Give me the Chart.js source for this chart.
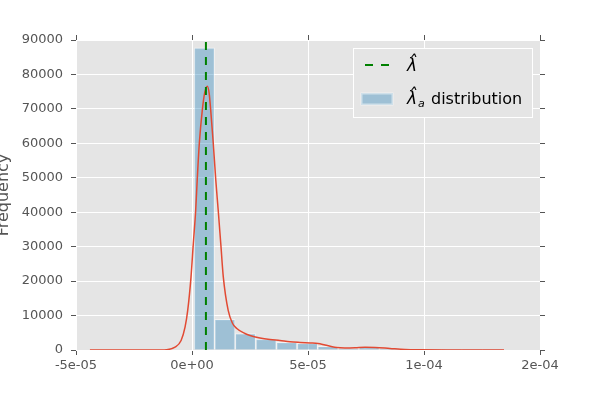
<!DOCTYPE html>
<html>
<head>
<meta charset="utf-8">
<script src="https://cdn.jsdelivr.net/npm/chart.js@4.4.1/dist/chart.umd.min.js"></script>
<style>
  html, body { margin: 0; padding: 0; background: #fff; }
</style>
</head>
<body>
<canvas id="myChart" width="600" height="400"></canvas>
<script>
// histogram of lambda_a estimates
const binEdges = [0.086e-5, 0.975e-5, 1.86e-5, 2.75e-5, 3.64e-5, 4.53e-5, 5.42e-5, 6.30e-5,
  7.19e-5, 8.08e-5, 8.97e-5, 9.86e-5, 10.74e-5, 11.63e-5, 12.52e-5, 13.41e-5];
const binCounts = [87700, 8900, 4800, 3150, 2200, 1950, 1100, 450, 750, 400, 150, 60, 30, 15, 10];

// kernel density curve (scaled to counts)
const kdeX = [-4.40e-5, -1.60e-5, -1.10e-5, -0.73e-5, -0.47e-5, -0.30e-5, -0.185e-5, -0.043e-5,
  0.056e-5, 0.159e-5, 0.228e-5, 0.315e-5, 0.444e-5, 0.55e-5, 0.66e-5, 0.74e-5, 0.806e-5,
  0.918e-5, 1.02e-5, 1.13e-5, 1.24e-5, 1.35e-5, 1.56e-5, 1.75e-5, 1.93e-5, 2.28e-5, 2.50e-5,
  2.93e-5, 3.36e-5, 3.79e-5, 4.22e-5, 4.66e-5, 5.09e-5, 5.43e-5, 5.73e-5, 6.16e-5, 6.59e-5,
  7.03e-5, 7.46e-5, 7.89e-5, 8.53e-5, 9.18e-5, 9.83e-5, 11.0e-5, 13.45e-5];
const kdeY = [0, 0, 100, 810, 2760, 6630, 11490, 21170,
  30880, 40560, 49780, 59960, 69640, 74800, 76600, 74500, 69640,
  59960, 49780, 40560, 30880, 21170, 11490, 7700, 6250, 4800, 4200,
  3500, 3050, 2750, 2400, 2200, 2050, 1900, 1450, 800, 580,
  640, 800, 730, 440, 150, 50, 0, 0];

// point estimate
const lambdaHat = 6.0e-6;

const xTicks = [-5e-5, 0, 5e-5, 1e-4, 1.5e-4];
const xTickLabels = ["-5e-05", "0e+00", "5e-05", "1e-04", "2e-04"];
const yTicks = [0, 10000, 20000, 30000, 40000, 50000, 60000, 70000, 80000, 90000];

const binCenters = binCounts.map((c, i) => (binEdges[i] + binEdges[i + 1]) / 2);

Chart.defaults.font.family = "'DejaVu Sans', sans-serif";

const plotBg = {
  id: "plotBg",
  beforeDraw(chart) {
    const a = chart.chartArea;
    chart.ctx.save();
    chart.ctx.fillStyle = "#e5e5e5";
    chart.ctx.fillRect(a.left, a.top, a.right - a.left, a.bottom - a.top);
    chart.ctx.restore();
  },
};

const insideLegend = {
  id: "insideLegend",
  afterDraw(chart) {
    const ctx = chart.ctx;
    const a = chart.chartArea;
    const x0 = a.right - 187;
    const y0 = a.top + 8;
    ctx.save();
    ctx.fillStyle = "#e5e5e5";
    ctx.fillRect(x0, y0, 180, 69);
    ctx.strokeStyle = "#ffffff";
    ctx.lineWidth = 1;
    ctx.strokeRect(x0 + 0.5, y0 + 0.5, 179, 69);

    // entry 1: dashed line
    ctx.strokeStyle = "green";
    ctx.lineWidth = 2;
    ctx.setLineDash([8, 8]);
    ctx.beginPath();
    ctx.moveTo(x0 + 12, y0 + 17);
    ctx.lineTo(x0 + 37, y0 + 17);
    ctx.stroke();
    ctx.setLineDash([]);

    ctx.fillStyle = "#000";
    ctx.textBaseline = "alphabetic";
    ctx.font = "italic 17px 'DejaVu Sans'";
    ctx.fillText("\u03bb\u0302", x0 + 54, y0 + 23);

    // entry 2: patch
    ctx.fillStyle = "rgba(52,138,189,0.4)";
    ctx.fillRect(x0 + 8, y0 + 45, 32, 12);
    ctx.strokeStyle = "rgba(255,255,255,0.5)";
    ctx.strokeRect(x0 + 8.5, y0 + 45.5, 31, 11);

    ctx.fillStyle = "#000";
    ctx.font = "italic 17px 'DejaVu Sans'";
    ctx.fillText("\u03bb\u0302", x0 + 54, y0 + 56);
    ctx.font = "italic 11px 'DejaVu Sans'";
    ctx.fillText("a", x0 + 65, y0 + 59);
    ctx.font = "16px 'DejaVu Sans'";
    ctx.fillText("distribution", x0 + 78, y0 + 56);
    ctx.restore();
  },
};

const setTicks = (vals) => (scale) => {
  scale.ticks = vals.map((v) => ({ value: v }));
};

new Chart("myChart", {
  type: "line",
  data: {
    datasets: [
      {
        type: "line",
        data: [{ x: lambdaHat, y: 0 }, { x: lambdaHat, y: 90000 }],
        borderColor: "green",
        borderWidth: 2,
        borderDash: [8, 7],
        pointRadius: 0,
        order: 0,
      },
      {
        type: "line",
        data: kdeX.map((x, i) => ({ x: x, y: kdeY[i] })),
        borderColor: "#e24a33",
        borderWidth: 1.5,
        pointRadius: 0,
        fill: false,
        cubicInterpolationMode: "monotone",
        order: 1,
      },
      {
        type: "bar",
        data: binCenters.map((x, i) => ({ x: x, y: binCounts[i] })),
        backgroundColor: "rgba(52,138,189,0.4)",
        borderColor: "rgba(255,255,255,0.5)",
        borderWidth: 1,
        barPercentage: 1,
        categoryPercentage: 1,
        grouped: false,
        order: 2,
      },
    ],
  },
  options: {
    responsive: false,
    animation: false,
    events: [],
    layout: { padding: { top: 35, right: 55, bottom: 20, left: 0 } },
    plugins: {
      legend: { display: false },
      tooltip: { enabled: false },
    },
    scales: {
      x: {
        type: "linear",
        position: "bottom",
        min: -5e-5,
        max: 1.5e-4,
        offset: false,
        afterBuildTicks: setTicks(xTicks),
        afterFit: (s) => { s.height = 30; },
        ticks: {
          callback: (v, i) => xTickLabels[i],
          color: "#555",
          font: { size: 13 },
          padding: 3,
          maxRotation: 0,
          autoSkip: false,
        },
        grid: { color: "#ffffff", lineWidth: 1, offset: false, tickColor: "#555", tickLength: 5 },
        border: { display: false },
      },
      x2: {
        type: "linear",
        position: "top",
        min: -5e-5,
        max: 1.5e-4,
        afterBuildTicks: setTicks(xTicks),
        afterFit: (s) => { s.height = 5; },
        ticks: { display: false },
        grid: { drawOnChartArea: false, tickColor: "#555", tickLength: 5 },
        border: { display: false },
      },
      y: {
        type: "linear",
        position: "left",
        min: 0,
        max: 90000,
        afterBuildTicks: setTicks(yTicks),
        afterFit: (s) => { s.width = 76; },
        ticks: { color: "#555", font: { size: 13 }, padding: 8, callback: (v) => String(v) },
        grid: { color: "#ffffff", lineWidth: 1, tickColor: "#555", tickLength: 5 },
        border: { display: false },
        title: {
          display: true,
          text: "Frequency",
          color: "#555",
          font: { size: 16 },
          padding: { top: -6, bottom: 0 },
        },
      },
      y2: {
        type: "linear",
        position: "right",
        min: 0,
        max: 90000,
        afterBuildTicks: setTicks(yTicks),
        afterFit: (s) => { s.width = 5; },
        ticks: { display: false },
        grid: { drawOnChartArea: false, tickColor: "#555", tickLength: 5 },
        border: { display: false },
      },
    },
  },
  plugins: [plotBg, insideLegend],
});
</script>
</body>
</html>
